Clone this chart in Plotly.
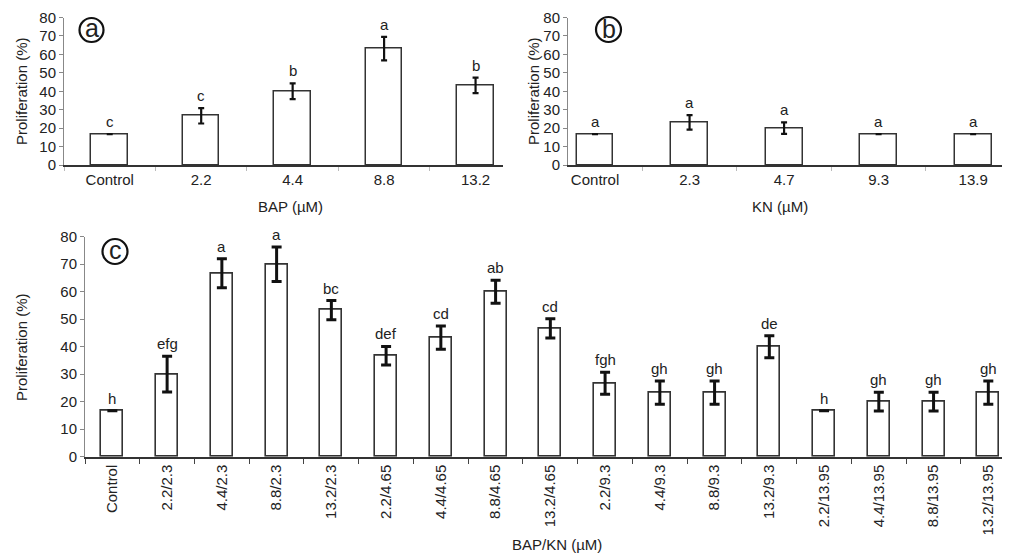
import plotly.graph_objects as go

# ---- data ----
cat_a = ["Control", "2.2", "4.4", "8.8", "13.2"]
val_a = [16.7, 26.7, 40.0, 63.1, 43.2]
err_a = [0, 4.2, 4.3, 6.4, 4.2]
let_a = ["c", "c", "b", "a", "b"]

cat_b = ["Control", "2.3", "4.7", "9.3", "13.9"]
val_b = [16.7, 23.1, 20.0, 16.7, 16.7]
err_b = [0, 3.9, 3.1, 0, 0]
let_b = ["a", "a", "a", "a", "a"]

cat_c = ["Control", "2.2/2.3", "4.4/2.3", "8.8/2.3", "13.2/2.3",
         "2.2/4.65", "4.4/4.65", "8.8/4.65", "13.2/4.65",
         "2.2/9.3", "4.4/9.3", "8.8/9.3", "13.2/9.3",
         "2.2/13.95", "4.4/13.95", "8.8/13.95", "13.2/13.95"]
val_c = [16.7, 30.0, 66.7, 70.0, 53.3, 36.7, 43.3, 60.0, 46.7,
         26.7, 23.3, 23.3, 40.0, 16.7, 20.0, 20.0, 23.3]
err_c = [0, 6.5, 5.3, 6.3, 3.5, 3.4, 4.2, 4.2, 3.5,
         4.0, 4.2, 4.2, 4.0, 0, 3.4, 3.4, 4.2]
let_c = ["h", "efg", "a", "a", "bc", "def", "cd", "ab", "cd",
         "fgh", "gh", "gh", "de", "h", "gh", "gh", "gh"]

FONT = "Liberation Sans, Arial, sans-serif"
TXT = "#222222"

# page body has an 8px margin: figure is sized/positioned to compensate
OFF = 8
W, H = 1010 - OFF, 556 - OFF
def px(x):
    return (x - OFF) / W
def py(y):
    return 1 - (y - OFF) / H

fig = go.Figure()

def add_panel(cats, vals, errs, xa, ya, bw, ethick, ewidth, lw, hide_zero):
    arr = [None if (hide_zero and e == 0) else e for e in errs]
    fig.add_trace(go.Bar(
        x=cats, y=vals, xaxis=xa, yaxis=ya, width=bw,
        marker=dict(color="white", line=dict(color="#333333", width=lw)),
        error_y=dict(type="data", array=arr, visible=True, color="#111111",
                     thickness=ethick, width=ewidth),
        showlegend=False, hoverinfo="x+y"))

add_panel(cat_a, val_a, err_a, "x", "y", 0.40, 2.2, 3, 1.5, True)
add_panel(cat_b, val_b, err_b, "x2", "y2", 0.39, 2.2, 3, 1.5, False)
add_panel(cat_c, val_c, err_c, "x3", "y3", 0.40, 3, 5, 1.6, True)

annots = []
def add_letters(cats, vals, errs, lets, xref, yref):
    for i, (v, e, l) in enumerate(zip(vals, errs, lets)):
        annots.append(dict(x=i, y=v + e, xref=xref, yref=yref, text=l,
                           showarrow=False, yanchor="bottom", yshift=2,
                           font=dict(family=FONT, size=15, color=TXT)))

add_letters(cat_a, val_a, err_a, let_a, "x", "y")
add_letters(cat_b, val_b, err_b, let_b, "x2", "y2")
add_letters(cat_c, val_c, err_c, let_c, "x3", "y3")

def txt(x, y, s, size=15, angle=0):
    annots.append(dict(x=px(x), y=py(y), xref="paper", yref="paper", text=s,
                       showarrow=False, textangle=angle, xanchor="center",
                       yanchor="middle", font=dict(family=FONT, size=size, color=TXT)))

# axis titles
txt(21, 91, "Proliferation (%)", 15, -90)
txt(533, 91, "Proliferation (%)", 15, -90)
txt(21, 347, "Proliferation (%)", 15, -90)
txt(290, 206, "BAP (µM)", 15)
txt(780, 206, "KN (µM)", 15)
txt(557, 544, "BAP/KN (µM)", 15)

# panel labels (circled letters)
shapes = []
def circled(cx, cy, r, letter, dy):
    shapes.append(dict(type="circle", xref="paper", yref="paper",
                       x0=px(cx - r), x1=px(cx + r), y0=py(cy + r), y1=py(cy - r),
                       line=dict(color="#111111", width=2.2), fillcolor="rgba(0,0,0,0)"))
    txt(cx, cy + dy, letter, 25)

circled(91.5, 30, 12, "a", -2)
circled(608.5, 29.5, 12.5, "b", 0)
circled(115, 251.5, 12.5, "c", -2)

yax_common = dict(range=[0, 80], dtick=10, showline=True, linecolor="#888888",
                  linewidth=1, ticks="outside", ticklen=4, tickcolor="#888888",
                  showgrid=False, zeroline=False, automargin=False,
                  ticklabeloverflow="allow",
                  tickfont=dict(family=FONT, size=15, color=TXT))
xax_common = dict(type="category", showline=True, linecolor="#333333", linewidth=2,
                  ticks="outside", tickson="boundaries", ticklen=4,
                  tickcolor="#bbbbbb", showgrid=False, zeroline=False, automargin=False,
                  ticklabeloverflow="allow",
                  tickfont=dict(family=FONT, size=15, color=TXT))

fig.update_layout(
    width=W, height=H, autosize=False,
    margin=dict(l=0, r=0, t=0, b=0, pad=0),
    paper_bgcolor="white", plot_bgcolor="white",
    bargap=0,
    xaxis=dict(xax_common, domain=[px(64), px(503)], range=[-0.5, 4.3], anchor="y"),
    yaxis=dict(yax_common, domain=[py(165), py(17.5)], anchor="x"),
    xaxis2=dict(xax_common, domain=[px(568), 1.0], range=[-0.286, 4.39], anchor="y2"),
    yaxis2=dict(yax_common, domain=[py(165), py(17.5)], anchor="x2"),
    xaxis3=dict(xax_common, domain=[px(85), px(1002)], range=[-0.5, 16.25], anchor="y3",
                tickangle=-90, tickcolor="#444444", ticklen=5),
    yaxis3=dict(yax_common, domain=[py(456.7), py(236.7)], anchor="x3"),
    annotations=annots,
    shapes=shapes,
)

fig.write_html("out.html")
